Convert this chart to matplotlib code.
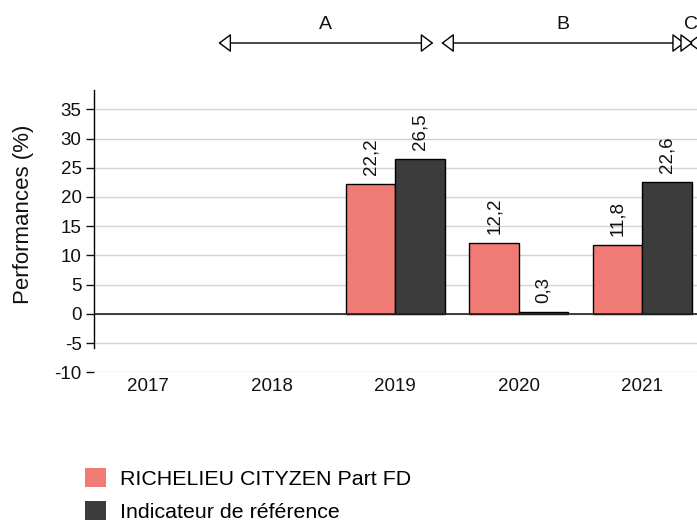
import matplotlib
matplotlib.use("Agg")
import matplotlib.pyplot as plt
import numpy as np
from matplotlib.patches import Patch

plt.rcParams['font.family'] = ['Liberation Sans', 'DejaVu Sans']
plt.rcParams['axes.unicode_minus'] = False

years = ["2017", "2018", "2019", "2020", "2021"]
fund = [np.nan, np.nan, 22.2, 12.2, 11.8]
index = [np.nan, np.nan, 26.5, 0.3, 22.6]
fund_label = "RICHELIEU CITYZEN Part FD"
index_label = "Indicateur de référence"
period_names = ["A", "B", "C"]
period_starts = [0.567, 2.372, 4.372]
period_ends = [2.308, 4.345, 4.41]

c_fund = "#F07B74"
c_index = "#3C3C3C"

W, H = 697, 523
fig = plt.figure(figsize=(W/100, H/100), dpi=100)
left_px, right_px = 94, 711.5
top_px, bot_px = 90, 372.3
ax = fig.add_axes([left_px/W, 1-bot_px/H, (right_px-left_px)/W, (bot_px-top_px)/H])

x = np.arange(len(years))
bw = 0.4
ax.bar(x - bw/2, fund, bw, color=c_fund, edgecolor="black", linewidth=1, zorder=3)
ax.bar(x + bw/2, index, bw, color=c_index, edgecolor="black", linewidth=1, zorder=3)

def fmt(v):
    return f"{v:.1f}".replace(".", ",")

for xs, vals in [(x - bw/2, fund), (x + bw/2, index)]:
    for xi, v in zip(xs, vals):
        if not np.isnan(v):
            ax.annotate(fmt(v), (xi, max(v, 0)), xytext=(0, 6.5), textcoords="offset points",
                        rotation=90, ha="center", va="bottom", fontsize=13.5, color="#111111")

ax.set_xlim(-0.44, 4.56)
ax.set_ylim(-10, 38.3)
ax.set_yticks(np.arange(-10, 36, 5))
ax.set_xticks(x)
ax.set_xticklabels(years)
ax.tick_params(axis="x", length=0, labelsize=13.5, pad=4, colors="#111111")
ax.tick_params(axis="y", length=6, width=1, labelsize=13.5, pad=3, colors="#111111")
ax.grid(axis="y", color="#d4d4d4", linewidth=1, zorder=0)
ax.axhline(0, color="#222222", linewidth=1.2, zorder=4)
for s in ["top", "right", "bottom"]:
    ax.spines[s].set_visible(False)
ax.spines["left"].set_bounds(-5.8, 38.3)
ax.spines["left"].set_linewidth(1)
fig.text(24/W, 1-214/H, "Performances (%)", rotation=90, ha="center", va="center",
         fontsize=16, color="#111111")

# period arrows
y_arrow = (bot_px - 43) / (bot_px - top_px)
y_text = (bot_px - 25) / (bot_px - top_px)
trans = ax.get_xaxis_transform()
for name, s, e in zip(period_names, period_starts, period_ends):
    ax.annotate("", xy=(e, y_arrow), xytext=(s, y_arrow), xycoords=trans, textcoords=trans,
                annotation_clip=False,
                arrowprops=dict(arrowstyle="<|-|>,head_length=0.6,head_width=0.45", fc="white",
                                ec="black", lw=1, shrinkA=0, shrinkB=0, mutation_scale=13))
    ax.text((s + e) / 2, y_text, name, transform=trans, ha="center", va="center", fontsize=14,
            clip_on=False, color="#111111")

handles = [Patch(facecolor=c_fund, edgecolor="none"), Patch(facecolor=c_index, edgecolor="none")]
fig.legend(handles, [fund_label, index_label], loc="upper left",
           bbox_to_anchor=(85/W, 1-468/H), frameon=False, fontsize=15.4,
           handlelength=1.0, handleheight=1.0, handletextpad=0.65, labelspacing=0.58,
           borderpad=0, borderaxespad=0)

fig.savefig("out.png", dpi=100)
